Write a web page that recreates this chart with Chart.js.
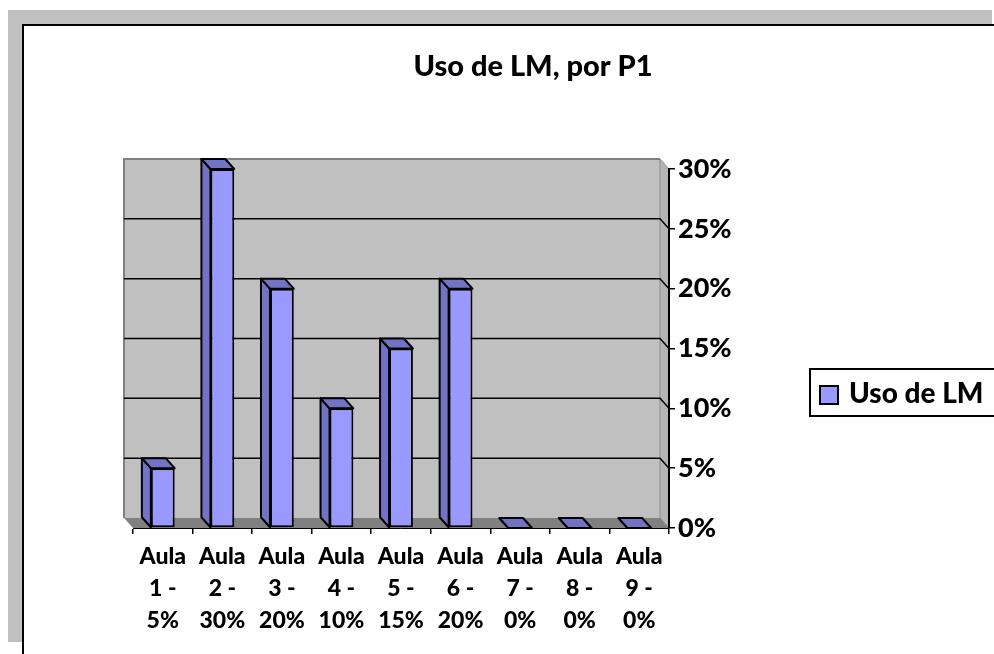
<!DOCTYPE html>
<html>
<head>
<meta charset="utf-8">
<script src="https://cdn.jsdelivr.net/npm/chart.js@4.4.0/dist/chart.umd.min.js"></script>
<style>
  html, body { margin: 0; padding: 0; background: #fff; }
</style>
</head>
<body>
<canvas id="chart" width="994" height="654"></canvas>
<script>
const TITLE = "Uso de LM, por P1";
const SERIES_NAME = "Uso de LM";
const categories = [
  ["Aula", "1 -", "5%"],
  ["Aula", "2 -", "30%"],
  ["Aula", "3 -", "20%"],
  ["Aula", "4 -", "10%"],
  ["Aula", "5 -", "15%"],
  ["Aula", "6 -", "20%"],
  ["Aula", "7 -", "0%"],
  ["Aula", "8 -", "0%"],
  ["Aula", "9 -", "0%"],
];
const usage = [0.05, 0.30, 0.20, 0.10, 0.15, 0.20, 0, 0, 0];
const yMax = 0.30;
const yStep = 0.05;

const FONT = "Lato, 'Liberation Sans', sans-serif";
const WEIGHT = "900";
const FRONT = "#9999ff";
const SIDE = "#7373c6";
const DX = 9, DY = 10; // fake 3d depth

const excel3d = {
  id: "excel3d",
  beforeDraw(chart) {
    const ctx = chart.ctx;
    const { left, right, top, bottom } = chart.chartArea;
    const y = chart.scales.y;
    ctx.save();
    ctx.fillStyle = "#fff";
    ctx.fillRect(0, 0, chart.width, chart.height);

    // sheet frame
    ctx.fillStyle = "#c0c0c0";
    ctx.fillRect(8, 10, 984, 14);
    ctx.fillRect(8, 10, 14, 632);
    ctx.strokeStyle = "#000";
    ctx.lineWidth = 2;
    ctx.beginPath();
    ctx.moveTo(23, 654);
    ctx.lineTo(23, 25);
    ctx.lineTo(994, 25);
    ctx.stroke();

    ctx.fillStyle = "#000";
    ctx.font = `${WEIGHT} 29px ${FONT}`;
    ctx.textAlign = "center";
    ctx.textBaseline = "middle";
    ctx.fillText(TITLE, 533, 67);

    // back wall
    ctx.fillStyle = "#c0c0c0";
    ctx.fillRect(left - DX, top - DY, right - left, bottom - top);

    // right wall
    ctx.beginPath();
    ctx.moveTo(right - DX, top - DY);
    ctx.lineTo(right, top);
    ctx.lineTo(right, bottom);
    ctx.lineTo(right - DX, bottom - DY);
    ctx.closePath();
    ctx.fillStyle = "#b4b4b4";
    ctx.fill();
    ctx.strokeStyle = "#8c8c8c";
    ctx.lineWidth = 1;
    ctx.stroke();

    // floor
    ctx.beginPath();
    ctx.moveTo(left, bottom);
    ctx.lineTo(right, bottom);
    ctx.lineTo(right - DX, bottom - DY);
    ctx.lineTo(left - DX, bottom - DY);
    ctx.closePath();
    ctx.fillStyle = "#808080";
    ctx.fill();

    ctx.strokeStyle = "#808080";
    ctx.lineWidth = 2;
    ctx.beginPath();
    ctx.moveTo(left - DX, bottom - DY);
    ctx.lineTo(left - DX, top - DY);
    ctx.lineTo(right - DX, top - DY);
    ctx.stroke();

    // gridlines on the back wall, bent onto the side wall
    ctx.strokeStyle = "#000";
    ctx.lineWidth = 1.5;
    y.ticks.forEach((t) => {
      if (t.value < 1e-9 || t.value > yMax - 1e-9) return;
      const py = y.getPixelForValue(t.value);
      ctx.beginPath();
      ctx.moveTo(left - DX, py - DY);
      ctx.lineTo(right - DX, py - DY);
      ctx.lineTo(right, py);
      ctx.stroke();
    });
    ctx.restore();
  },
  afterDatasetsDraw(chart) {
    const ctx = chart.ctx;
    const meta = chart.getDatasetMeta(0);
    ctx.save();
    ctx.fillStyle = SIDE;
    ctx.strokeStyle = "#000";
    ctx.lineWidth = 2;
    ctx.lineJoin = "round";
    meta.data.forEach((bar) => {
      const { x, y, base, width } = bar.getProps(["x", "y", "base", "width"], true);
      const x0 = x - width / 2, x1 = x + width / 2;
      if (base - y > 0.5) {
        ctx.beginPath();
        ctx.moveTo(x0, y);
        ctx.lineTo(x0 - DX, y - DY);
        ctx.lineTo(x0 - DX, base - DY);
        ctx.lineTo(x0, base);
        ctx.closePath();
        ctx.fill();
        ctx.stroke();
      }
      ctx.beginPath();
      ctx.moveTo(x0, y);
      ctx.lineTo(x0 - DX, y - DY);
      ctx.lineTo(x1 - DX, y - DY);
      ctx.lineTo(x1, y);
      ctx.closePath();
      ctx.fill();
      ctx.stroke();
    });
    ctx.restore();
  },
  afterDraw(chart) {
    const ctx = chart.ctx;
    ctx.save();
    ctx.fillStyle = "#fff";
    ctx.fillRect(810, 369, 200, 47);
    ctx.strokeStyle = "#000";
    ctx.lineWidth = 2;
    ctx.strokeRect(810, 369, 200, 47);
    ctx.fillStyle = FRONT;
    ctx.fillRect(820, 386, 18, 18);
    ctx.strokeRect(820, 386, 18, 18);
    ctx.fillStyle = "#000";
    ctx.font = `${WEIGHT} 28px ${FONT}`;
    ctx.textAlign = "left";
    ctx.textBaseline = "middle";
    ctx.fillText(chart.data.datasets[0].label, 849, 394);
    ctx.restore();
  },
};

new Chart(document.getElementById("chart"), {
  type: "bar",
  data: {
    labels: categories,
    datasets: [
      {
        label: SERIES_NAME,
        data: usage,
        backgroundColor: FRONT,
        borderColor: "#000",
        borderWidth: 2,
        borderSkipped: false,
        categoryPercentage: 1,
        barPercentage: 0.4,
      },
    ],
  },
  options: {
    responsive: false,
    animation: false,
    layout: { padding: { left: 133, top: 169, right: 245, bottom: 26 } },
    plugins: {
      legend: { display: false },
      title: { display: false },
      tooltip: { enabled: false },
    },
    scales: {
      x: {
        grid: { drawOnChartArea: false, tickLength: 6, color: "#000", lineWidth: 1.5, offset: true },
        border: { display: true, color: "#000", width: 1 },
        ticks: {
          color: "#000",
          font: { family: FONT, weight: WEIGHT, size: 23, lineHeight: 1.4 },
          padding: 6,
          maxRotation: 0,
          autoSkip: false,
        },
        afterFit: (s) => { s.height = 100; },
      },
      y: {
        position: "right",
        min: 0,
        max: yMax,
        grid: { drawOnChartArea: false, tickLength: 6, color: "#000", lineWidth: 1.5 },
        border: { display: true, color: "#000", width: 2 },
        ticks: {
          stepSize: yStep,
          color: "#000",
          font: { family: FONT, weight: WEIGHT, size: 27 },
          padding: 3,
          callback: (v) => Math.round(v * 100) + "%",
        },
        afterFit: (s) => { s.width = 80; },
      },
    },
  },
  plugins: [excel3d],
});
</script>
</body>
</html>
